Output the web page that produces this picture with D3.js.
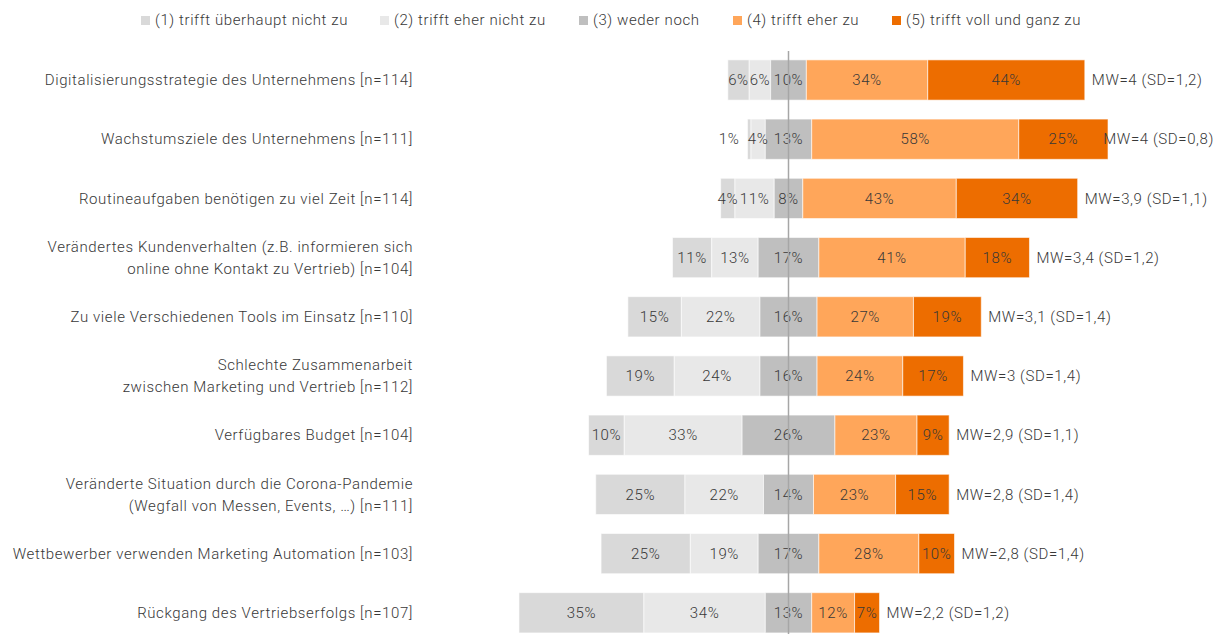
<!DOCTYPE html>
<html>
<head>
<meta charset="utf-8">
<script src="https://cdn.jsdelivr.net/npm/d3@7"></script>
<style>
  body { margin: 0; background: #fff; }
  svg text { font-family: Roboto, "DejaVu Sans Condensed", sans-serif; font-weight: 300; fill: #383838; letter-spacing: 0.6px; }
</style>
</head>
<body>
<div id="chart"></div>
<script>
// categories (multi-line labels split by \n)
const items = [
  "Digitalisierungsstrategie des Unternehmens [n=114]",
  "Wachstumsziele des Unternehmens [n=111]",
  "Routineaufgaben benötigen zu viel Zeit [n=114]",
  "Verändertes Kundenverhalten (z.B. informieren sich\nonline ohne Kontakt zu Vertrieb) [n=104]",
  "Zu viele Verschiedenen Tools im Einsatz [n=110]",
  "Schlechte Zusammenarbeit\nzwischen Marketing und Vertrieb [n=112]",
  "Verfügbares Budget [n=104]",
  "Veränderte Situation durch die Corona-Pandemie\n(Wegfall von Messen, Events, …) [n=111]",
  "Wettbewerber verwenden Marketing Automation [n=103]",
  "Rückgang des Vertriebserfolgs [n=107]"
];
const legendLabels = [
  "(1) trifft überhaupt nicht zu",
  "(2) trifft eher nicht zu",
  "(3) weder noch",
  "(4) trifft eher zu",
  "(5) trifft voll und ganz zu"
];
// percentages per answer, one array per scale point
const s1 = [6, 1, 4, 11, 15, 19, 10, 25, 25, 35];
const s2 = [6, 4, 11, 13, 22, 24, 33, 22, 19, 34];
const s3 = [10, 13, 8, 17, 16, 16, 26, 14, 17, 13];
const s4 = [34, 58, 43, 41, 27, 24, 23, 23, 28, 12];
const s5 = [44, 25, 34, 18, 19, 17, 9, 15, 10, 7];
const means = ["MW=4 (SD=1,2)", "MW=4 (SD=0,8)", "MW=3,9 (SD=1,1)", "MW=3,4 (SD=1,2)", "MW=3,1 (SD=1,4)",
  "MW=3 (SD=1,4)", "MW=2,9 (SD=1,1)", "MW=2,8 (SD=1,4)", "MW=2,8 (SD=1,4)", "MW=2,2 (SD=1,2)"];

const colors = ["#d9d9d9", "#e8e8e8", "#bfbfbf", "#ffa65a", "#ed6d00"];
const width = 1220, height = 634;
const centerX = 788.5, k = 3.57;
const fs = 15;

const series = [s1, s2, s3, s4, s5];
const rows = items.map((label, i) => {
  const vals = series.map(s => s[i]);
  let start = -(vals[0] + vals[1] + vals[2] / 2);
  const segs = vals.map((v, j) => {
    const seg = { j, v, x0: start, x1: start + v };
    start += v;
    return seg;
  });
  return { label, segs, mean: means[i], end: start };
});

const svg = d3.select("#chart").append("svg")
  .attr("width", width).attr("height", height);

const x = d3.scaleLinear().domain([-80, 90]).range([centerX - 80 * k, centerX + 90 * k]);
const y = d3.scaleBand().domain(items).range([50.4, 642.4]).paddingInner(0.32).paddingOuter(0.16);

// legend
const legendX = [141, 380, 579, 733, 892];
const lg = svg.append("g").selectAll("g").data(legendLabels).join("g")
  .attr("transform", (d, i) => `translate(${legendX[i]},20)`);
lg.append("rect").attr("x", 0).attr("y", -4).attr("width", 9).attr("height", 9)
  .attr("fill", (d, i) => colors[i]);
lg.append("text").attr("x", 14).attr("y", 1).attr("dominant-baseline", "middle")
  .attr("font-size", fs).text(d => d);

// category labels
const lab = svg.append("g").selectAll("text").data(rows).join("text")
  .attr("text-anchor", "end").attr("font-size", fs)
  .attr("transform", d => `translate(413,${y(d.label) + y.bandwidth() / 2})`);
lab.each(function (d) {
  const lines = d.label.split("\n");
  const t = d3.select(this);
  lines.forEach((ln, i) => {
    t.append("tspan").attr("x", 0)
      .attr("y", (i - (lines.length - 1) / 2) * 22)
      .attr("dy", "0.35em").text(ln);
  });
});

// bars
const rg = svg.append("g").selectAll("g").data(rows).join("g")
  .attr("transform", d => `translate(0,${y(d.label)})`);
rg.selectAll("rect").data(d => d.segs).join("rect")
  .attr("x", d => x(d.x0))
  .attr("width", d => x(d.x1) - x(d.x0))
  .attr("y", 0).attr("height", y.bandwidth())
  .attr("fill", d => colors[d.j])
  .attr("stroke", "#fff").attr("stroke-opacity", 0.6).attr("stroke-width", 1);

rg.selectAll("text.v").data(d => d.segs).join("text")
  .attr("class", "v")
  .attr("x", d => d.v < 3 ? x(d.x0) - 8 : (x(d.x0) + x(d.x1)) / 2)
  .attr("text-anchor", d => d.v < 3 ? "end" : "middle")
  .attr("y", y.bandwidth() / 2).attr("dy", "0.35em")
  .attr("font-size", fs)
  .text(d => d.v + "%");

// mean labels
rg.append("text")
  .attr("font-size", fs)
  .attr("y", y.bandwidth() / 2).attr("dy", "0.35em")
  .text(d => d.mean)
  .attr("x", function (d) {
    const w = this.getComputedTextLength();
    return Math.min(x(d.end) + 7, width - 6 - w);
  });

// center line
svg.append("line")
  .attr("x1", x(0)).attr("x2", x(0))
  .attr("y1", 51).attr("y2", height)
  .attr("stroke", "#a6a6a6").attr("stroke-width", 1.5);
</script>
</body>
</html>
